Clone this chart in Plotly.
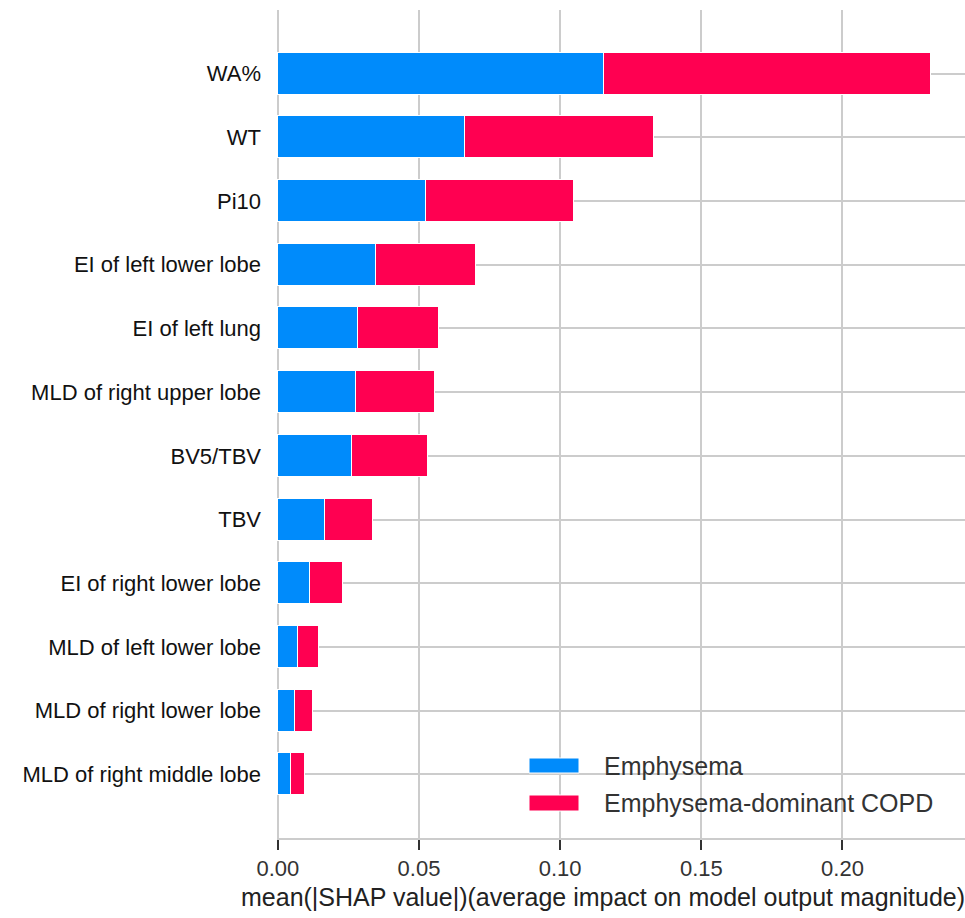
import plotly.graph_objects as go

# Mean |SHAP| per feature, split by outcome class (top feature first)
features = [
    "WA%", "WT", "Pi10", "EI of left lower lobe", "EI of left lung",
    "MLD of right upper lobe", "BV5/TBV", "TBV", "EI of right lower lobe",
    "MLD of left lower lobe", "MLD of right lower lobe", "MLD of right middle lobe",
]
emphysema = [0.1154, 0.0662, 0.0524, 0.0349, 0.0284, 0.0277, 0.0264, 0.0167,
             0.0114, 0.0071, 0.0060, 0.0046]
copd = [0.1158, 0.0669, 0.0525, 0.0352, 0.0288, 0.0279, 0.0267, 0.0170,
        0.0117, 0.0075, 0.0064, 0.0050]
series_names = ["Emphysema", "Emphysema-dominant COPD"]
x_ticks = [0.00, 0.05, 0.10, 0.15, 0.20]
x_title = "mean(|SHAP value|)(average impact on model output magnitude)"

BLUE = "#008bfb"
RED = "#ff0051"
GRID = "#cccccc"
FONT = "Liberation Sans, Arial, sans-serif"

fig = go.Figure()
for name, vals, col in [(series_names[0], emphysema, BLUE), (series_names[1], copd, RED)]:
    fig.add_trace(go.Bar(
        y=features, x=vals, name=name, orientation="h",
        marker=dict(color=col, line=dict(color="white", width=1.5)),
        width=0.66, showlegend=False,
    ))

# plot-area geometry in pixels (used to place the hand-drawn legend)
W, H = 965, 918
L, R, T, B = 277, 0, 10, 80
pw, ph = W - L - R, H - T - B


def px_x(px):
    return (px - L) / pw


def px_y(py):
    return (H - B - py) / ph


legend_items = [(series_names[0], BLUE, 758, 773), (series_names[1], RED, 795, 811)]
for name, col, y0, y1 in legend_items:
    fig.add_shape(type="rect", xref="paper", yref="paper",
                  x0=px_x(529), x1=px_x(579), y0=px_y(y1), y1=px_y(y0),
                  fillcolor=col, line=dict(color="white", width=1), layer="above")
    fig.add_annotation(xref="paper", yref="paper", x=px_x(602), y=px_y((y0 + y1) / 2),
                       text=name, showarrow=False, xanchor="left", yanchor="middle",
                       font=dict(family=FONT, size=25, color="#333333"))

fig.add_annotation(xref="paper", yref="paper", x=px_x(603), y=px_y(897),
                   text=x_title, showarrow=False, xanchor="center", yanchor="middle",
                   font=dict(family=FONT, size=25, color="#222222"))

fig.update_layout(
    width=W, height=H,
    margin=dict(l=L, r=R, t=T, b=B, pad=0),
    barmode="stack",
    plot_bgcolor="white", paper_bgcolor="white",
    bargap=0,
)
fig.update_xaxes(
    range=[-0.0003, 0.2434],
    tickvals=x_ticks, ticktext=[f"{v:.2f}" for v in x_ticks],
    showgrid=True, gridcolor=GRID, gridwidth=2,
    zeroline=True, zerolinecolor=GRID, zerolinewidth=2,
    showline=True, linecolor=GRID, linewidth=2,
    ticks="outside", ticklen=10, tickwidth=2, tickcolor="#333333",
    tickfont=dict(family=FONT, size=22, color="#333333"),
)
fig.update_yaxes(
    categoryorder="array", categoryarray=list(reversed(features)),
    range=[-1, 12],
    showgrid=True, gridcolor=GRID, gridwidth=2,
    zeroline=False, showline=False, ticks="",
    ticklabelstandoff=15,
    tickfont=dict(family=FONT, size=22, color="#111111"),
)

fig.write_html("out.html")
